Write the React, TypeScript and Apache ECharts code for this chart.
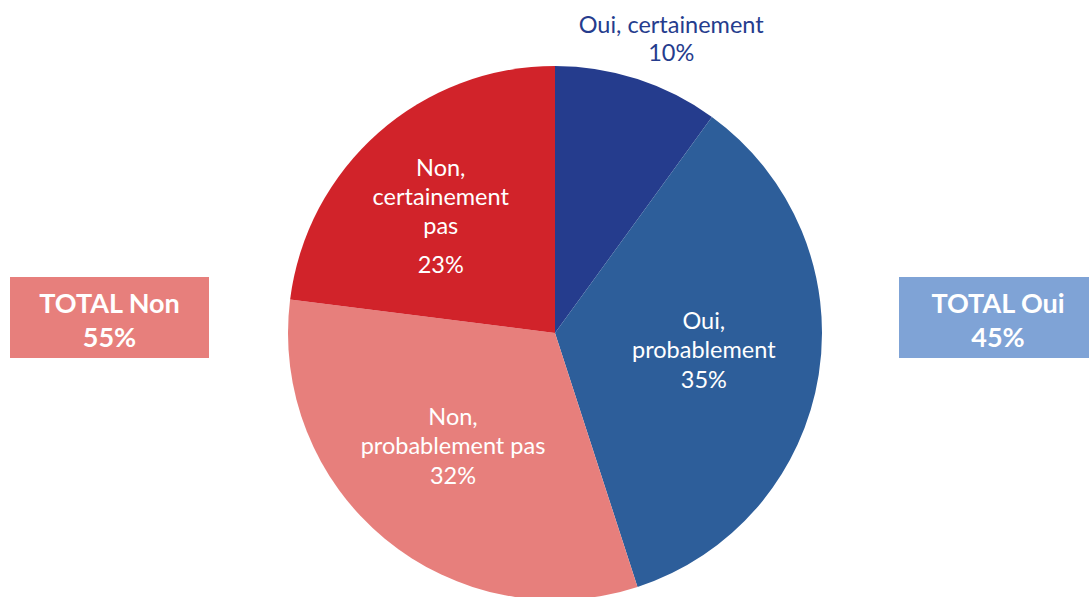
import React, { useEffect, useRef } from "react";
import * as echarts from "echarts";

const categories = ["Oui, certainement", "Oui, probablement", "Non, probablement pas", "Non, certainement pas"];
const values = [10, 35, 32, 23];
const labelTexts = [
  "Oui, certainement\n10%",
  "Oui,\nprobablement\n35%",
  "Non,\nprobablement pas\n32%",
  "{a|Non,}\n{a|certainement}\n{a|pas}\n{b|23%}",
];
const colors = ["#253C8D", "#2D5E9A", "#E77F7C", "#D1232A"];
const totalLabels = ["TOTAL Non\n55%", "TOTAL Oui\n45%"];

const FONT = "Lato, 'Open Sans', sans-serif";
const FS = 23.5;

export default function App() {
  const ref = useRef<HTMLDivElement>(null);
  useEffect(() => {
    if (!ref.current) return;
    const chart = echarts.init(ref.current, null, { renderer: "svg" });
    const offsets = [
      [74, -165],
      [14, -5],
      [-15, 7],
      [-24, -10.5],
    ];
    const data = categories.map((name, i) => ({
      name,
      value: values[i],
      itemStyle: { color: colors[i] },
      label: {
        show: true,
        position: "inside",
        formatter: labelTexts[i],
        offset: offsets[i],
        color: i === 0 ? "#253C8D" : "#FFFFFF",
        fontSize: FS,
        lineHeight: i === 0 ? 28 : 29.5,
        fontFamily: FONT,
        align: "center",
        rich: {
          a: { fontSize: FS, lineHeight: 29, color: "#FFFFFF", fontFamily: FONT },
          b: { fontSize: FS, lineHeight: 49, color: "#FFFFFF", fontFamily: FONT, verticalAlign: "middle" },
        },
      },
    }));
    chart.setOption({
      animation: false,
      backgroundColor: "#FFFFFF",
      series: [
        {
          type: "pie",
          center: [555, 333],
          radius: [0, 267],
          startAngle: 90,
          clockwise: true,
          avoidLabelOverlap: false,
          labelLine: { show: false },
          itemStyle: { borderWidth: 0 },
          emphasis: { disabled: true },
          data,
        },
      ],
      graphic: [
        {
          type: "group",
          left: 10,
          top: 277,
          children: [
            { type: "rect", shape: { x: 0, y: 0, width: 199, height: 81 }, style: { fill: "#E77F7C" } },
            {
              type: "text",
              x: 99.5,
              y: 42,
              style: {
                text: totalLabels[0],
                fill: "#FFFFFF",
                font: `bold 27px ${FONT}`,
                lineHeight: 34,
                align: "center",
                verticalAlign: "middle",
              },
            },
          ],
        },
        {
          type: "group",
          left: 899,
          top: 277,
          children: [
            { type: "rect", shape: { x: 0, y: 0, width: 190, height: 81 }, style: { fill: "#7FA3D6" } },
            {
              type: "text",
              x: 99,
              y: 42,
              style: {
                text: totalLabels[1],
                fill: "#FFFFFF",
                font: `bold 27px ${FONT}`,
                lineHeight: 34,
                align: "center",
                verticalAlign: "middle",
              },
            },
          ],
        },
      ],
    });
    return () => chart.dispose();
  }, []);
  return (
    <div
      ref={ref}
      style={{ position: "absolute", left: 0, top: 0, width: 1089, height: 597 }}
    />
  );
}
